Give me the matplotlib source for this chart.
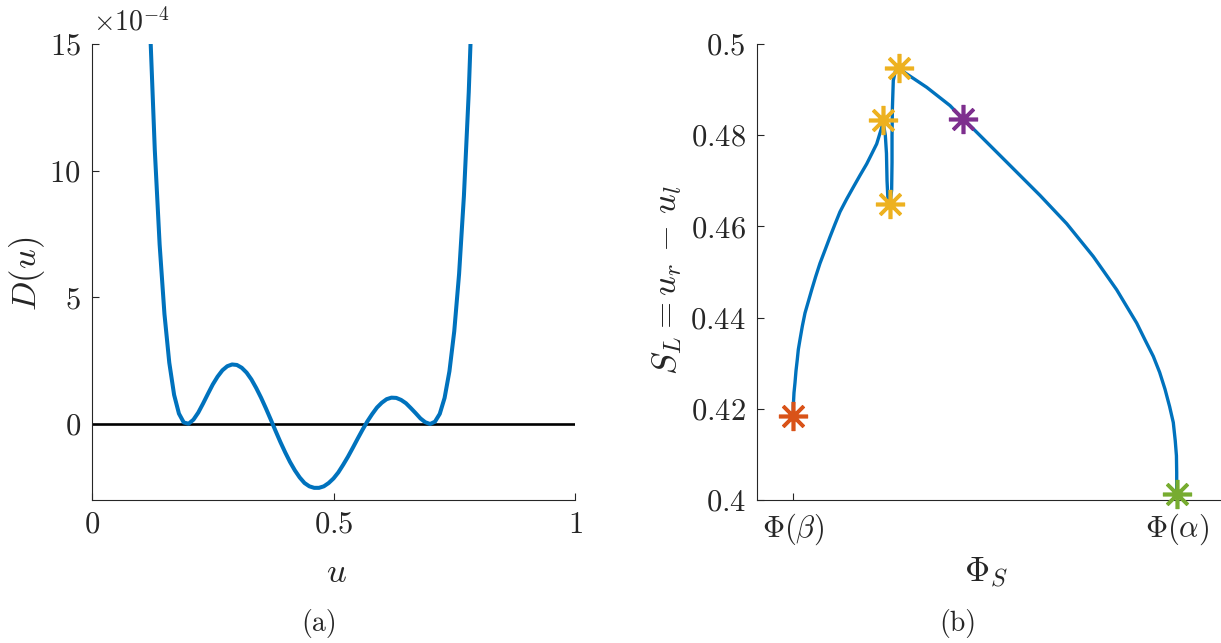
import matplotlib
matplotlib.use("Agg")
import matplotlib.pyplot as plt

plt.rcParams["mathtext.fontset"] = "cm"
plt.rcParams["font.family"] = "serif"
plt.rcParams["font.serif"] = ["cmr10", "DejaVu Serif"]
plt.rcParams["axes.unicode_minus"] = False

# ---- panel (a): D(u), values in units of 1e-4 ----
u_vals = [0.12, 0.13, 0.14, 0.15, 0.16, 0.17, 0.18, 0.19, 0.20, 0.21, 0.22, 0.23,
          0.24, 0.25, 0.26, 0.27, 0.28, 0.29, 0.30, 0.31, 0.32, 0.33, 0.34, 0.35,
          0.36, 0.37, 0.38, 0.39, 0.40, 0.41, 0.42, 0.43, 0.44, 0.45, 0.46, 0.47,
          0.48, 0.49, 0.50, 0.51, 0.52, 0.53, 0.54, 0.55, 0.56, 0.57, 0.58, 0.59,
          0.60, 0.61, 0.62, 0.63, 0.64, 0.65, 0.66, 0.67, 0.68, 0.69, 0.70, 0.71,
          0.72, 0.73, 0.74, 0.75, 0.76, 0.77, 0.78, 0.79]
d_vals = [15.76, 10.82, 7.09, 4.34, 2.42, 1.15, 0.41, 0.06, 0.01, 0.17, 0.45, 0.81,
          1.19, 1.56, 1.87, 2.12, 2.28, 2.35, 2.33, 2.22, 2.03, 1.76, 1.42, 1.04,
          0.62, 0.18, -0.27, -0.71, -1.12, -1.50, -1.83, -2.11, -2.33, -2.46, -2.52, -2.52,
          -2.46, -2.33, -2.15, -1.91, -1.61, -1.29, -0.94, -0.58, -0.23, 0.10, 0.39, 0.65,
          0.84, 0.98, 1.04, 1.03, 0.95, 0.82, 0.63, 0.43, 0.22, 0.07, 0.00, 0.09,
          0.40, 1.03, 2.08, 3.66, 5.92, 9.00, 13.09, 18.39]
a_xticks = [0, 0.5, 1]
a_xlabels = [r"$0$", r"$0.5$", r"$1$"]
a_yticks = [0, 5, 10, 15]
a_ylabels = [r"$0$", r"$5$", r"$10$", r"$15$"]

# ---- panel (b): S_L against Phi_S (Phi(beta)=0, Phi(alpha)=1) ----
phi_vals = [0.0, 0.0, 0.0018, 0.0044, 0.0070, 0.0104, 0.0131, 0.0175, 0.0235, 0.0305,
            0.0391, 0.048, 0.0584, 0.0696, 0.0827, 0.0957, 0.1088, 0.1218, 0.1392,
            0.1565, 0.1740, 0.1914, 0.2045, 0.2175, 0.2306, 0.233,
            0.2400, 0.2430, 0.2445, 0.2465, 0.2523,
            0.2565, 0.2575, 0.2575, 0.2585, 0.2608, 0.2660, 0.2765,
            0.2911, 0.348, 0.4087, 0.442, 0.4695, 0.5566, 0.6435, 0.7131, 0.7478,
            0.7825, 0.8110, 0.8435, 0.8692, 0.8957, 0.9180, 0.9390, 0.9555, 0.9695,
            0.9815, 0.9911, 0.9962, 0.9993, 1.0, 1.0]
sl_vals = [0.4184, 0.4206, 0.4235, 0.4257, 0.4283, 0.4308, 0.4330, 0.4352, 0.4381, 0.4410,
           0.4435, 0.4461, 0.4490, 0.4519, 0.4548, 0.4577, 0.4605, 0.4632, 0.4660,
           0.4686, 0.4712, 0.4737, 0.4759, 0.4781, 0.4817, 0.4834,
           0.4800, 0.4760, 0.4700, 0.4665, 0.4649,
           0.4680, 0.4740, 0.4800, 0.4860, 0.4920, 0.4940, 0.4947,
           0.4937, 0.4905, 0.4865, 0.4836, 0.4814, 0.4741, 0.4668, 0.4606, 0.4570,
           0.4534, 0.4500, 0.4461, 0.4425, 0.4388, 0.4350, 0.4315, 0.4280, 0.4243,
           0.4205, 0.4170, 0.4130, 0.4097, 0.4060, 0.4013]
mark_phi = [0.0, 0.233, 0.252, 0.2765, 0.442, 1.0]
mark_sl = [0.4184, 0.4834, 0.4649, 0.4947, 0.4836, 0.4013]
mark_col = ["#D95319", "#EDB120", "#EDB120", "#EDB120", "#7E2F8E", "#77AC30"]
b_xticks = [0, 1]
b_xlabels = [r"$\Phi(\beta)$", r"$\Phi(\alpha)$"]
b_yticks = [0.40, 0.42, 0.44, 0.46, 0.48, 0.50]
b_ylabels = [r"$0.4$", r"$0.42$", r"$0.44$", r"$0.46$", r"$0.48$", r"$0.5$"]

blue = "#0072BD"
grey = "#262626"
W, H = 1221, 643

fig = plt.figure(figsize=(W / 100, H / 100), dpi=100)


def style(ax):
    for s in ["top", "right"]:
        ax.spines[s].set_visible(False)
    for s in ["left", "bottom"]:
        ax.spines[s].set_color(grey)
        ax.spines[s].set_linewidth(0.8)
    ax.tick_params(direction="in", length=5, width=0.8, color=grey,
                   labelcolor=grey, labelsize=22, pad=8)


# panel (a)
ax1 = fig.add_axes([92 / W, 1 - 500 / H, (575 - 92) / W, 456 / H])
ax1.axhline(0, color="black", lw=1.9, zorder=2)
ax1.plot(u_vals, d_vals, color=blue, lw=2.9, zorder=3)
ax1.set_xlim(0, 1)
ax1.set_ylim(-3, 15)
ax1.set_xticks(a_xticks, a_xlabels)
ax1.set_yticks(a_yticks, a_ylabels)
style(ax1)

fig.text(93 / W, 1 - 22 / H, r"$\times10^{-4}$", fontsize=20, color=grey,
         ha="left", va="center")
fig.text(27 / W, 1 - 274 / H, r"$D(u)$", fontsize=25, color=grey,
         rotation=90, ha="center", va="center")
fig.text(336 / W, 1 - 573 / H, r"$u$", fontsize=25, color=grey,
         ha="center", va="center")
fig.text(319 / W, 1 - 624 / H, "(a)", fontsize=20, color=grey,
         ha="center", va="center")

# panel (b)
x0, x1 = 793.3, 1176.7
ax2 = fig.add_axes([757 / W, 1 - 500 / H, (W - 757) / W, 456 / H])
ax2.plot(phi_vals, sl_vals, color=blue, lw=2.4, zorder=3)
for p, s, c in zip(mark_phi, mark_sl, mark_col):
    ax2.plot(p, s, marker=(8, 2, 0), ms=21, mew=2.6, color=c, zorder=4,
             clip_on=False)
ax2.set_xlim((757 - x0) / (x1 - x0), (W - x0) / (x1 - x0))
ax2.set_ylim(0.4, 0.5)
ax2.set_xticks(b_xticks, b_xlabels)
ax2.set_yticks(b_yticks, b_ylabels)
style(ax2)

fig.text(667 / W, 1 - 280 / H, r"$S_L = u_r\,-\,u_l$", fontsize=25, color=grey,
         rotation=90, ha="center", va="center")
fig.text(986 / W, 1 - 573 / H, r"$\Phi_S$", fontsize=25, color=grey,
         ha="center", va="center")
fig.text(958 / W, 1 - 624 / H, "(b)", fontsize=20, color=grey,
         ha="center", va="center")

fig.savefig("out.png", dpi=100)
